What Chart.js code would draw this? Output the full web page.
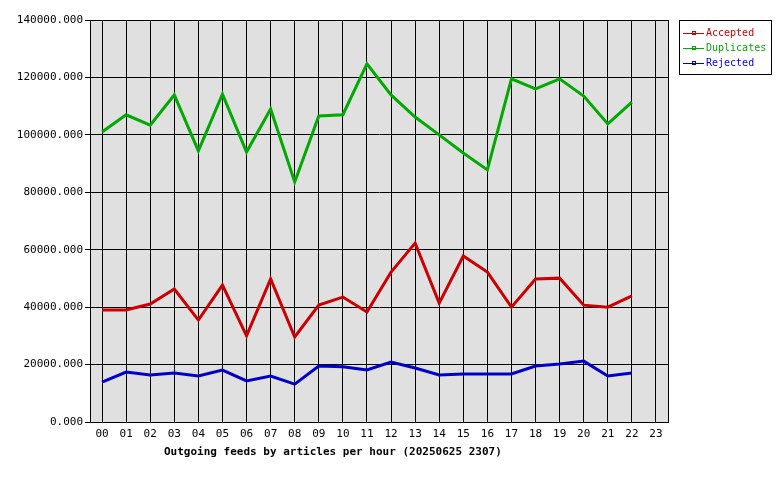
<!DOCTYPE html>
<html><head><meta charset="utf-8">
<script src="https://cdn.jsdelivr.net/npm/chart.js@4"></script>
<style>html,body{margin:0;padding:0;background:#fff}#wrap{width:780px;height:480px}</style>
</head><body><div id="wrap"><canvas id="c"></canvas></div>
<script>
const hours = ['00','01','02','03','04','05','06','07','08','09','10','11','12','13','14','15','16','17','18','19','20','21','22','23'];
const accepted = [39000,39000,41100,46300,35500,47700,30000,49800,29600,40700,43500,38300,52200,62300,41400,57800,52200,40000,49800,50100,40700,40000,43900,null];
const duplicates = [101000,107000,103400,113900,94400,114200,94000,109000,83600,106600,107000,124700,113900,106200,100000,93700,87800,119500,116000,119500,113500,103800,111400,null];
const rejected = [13900,17400,16400,17100,16000,18100,14300,16000,13200,19500,19200,18100,20900,18800,16400,16700,16700,16700,19500,20200,21200,16000,17100,null];
const chartTitle = 'Outgoing feeds by articles per hour (20250625 2307)';
const MONO = 'DejaVu Sans Mono, monospace';

/* plot background, boxed legend, bottom caption */
const frame = {
  id: 'frame',
  beforeDraw(chart) {
    const { ctx, chartArea: a } = chart;
    ctx.save();
    ctx.fillStyle = '#e0e0e0';
    ctx.fillRect(a.left, a.top, a.right - a.left, a.bottom - a.top);
    ctx.restore();
  },
  afterDraw(chart) {
    const { ctx, chartArea: a } = chart;
    ctx.save();
    ctx.strokeStyle = '#000'; ctx.lineWidth = 1;
    ctx.strokeRect(a.left + 0.5, a.top + 0.5, a.right - a.left, a.bottom - a.top);
    const x = 679, y = 20;
    ctx.fillStyle = '#fff';
    ctx.fillRect(x, y, 92, 54);
    ctx.strokeRect(x + 0.5, y + 0.5, 92, 54);
    ctx.font = '10px ' + MONO;
    ctx.textBaseline = 'middle';
    chart.data.datasets.forEach((ds, i) => {
      const ly = y + 13 + i * 15;
      ctx.strokeStyle = ds.borderColor; ctx.fillStyle = ds.borderColor;
      ctx.beginPath(); ctx.moveTo(x + 4, ly + 0.5); ctx.lineTo(x + 25, ly + 0.5); ctx.stroke();
      ctx.strokeRect(x + 13.5, ly - 1.5, 3, 3);
      ctx.fillText(ds.label, x + 27, ly);
    });
    ctx.fillStyle = '#000';
    ctx.font = 'bold 11px ' + MONO;
    ctx.fillText(chartTitle, 164, 452);
    ctx.restore();
  }
};

new Chart(document.getElementById('c'), {
  type: 'line',
  data: {
    labels: hours,
    datasets: [
      { label: 'Accepted', data: accepted, borderColor: '#cc0000' },
      { label: 'Duplicates', data: duplicates, borderColor: '#00aa00' },
      { label: 'Rejected', data: rejected, borderColor: '#0000cc' }
    ].map(d => Object.assign(d, { borderWidth: 3, pointRadius: 0, tension: 0, fill: false }))
  },
  options: {
    responsive: true, maintainAspectRatio: false, animation: false,
    layout: { padding: { top: 20, right: 112, left: 0, bottom: 0 } },
    plugins: { legend: { display: false }, tooltip: { enabled: false } },
    scales: {
      x: {
        offset: true,
        grid: { offset: false, color: '#000', drawTicks: false },
        border: { color: '#000' },
        ticks: { color: '#000', font: { family: MONO, size: 11 }, padding: 6, maxRotation: 0, autoSkip: false },
        afterFit: s => { s.height = 58; }
      },
      y: {
        min: 0, max: 140000,
        grid: { color: '#000', tickLength: 5 },
        border: { color: '#000' },
        ticks: { stepSize: 20000, color: '#000', font: { family: MONO, size: 11 }, padding: 2, callback: v => v.toFixed(3) },
        afterFit: s => { s.width = 90; }
      }
    }
  },
  plugins: [frame]
});
</script></body></html>
